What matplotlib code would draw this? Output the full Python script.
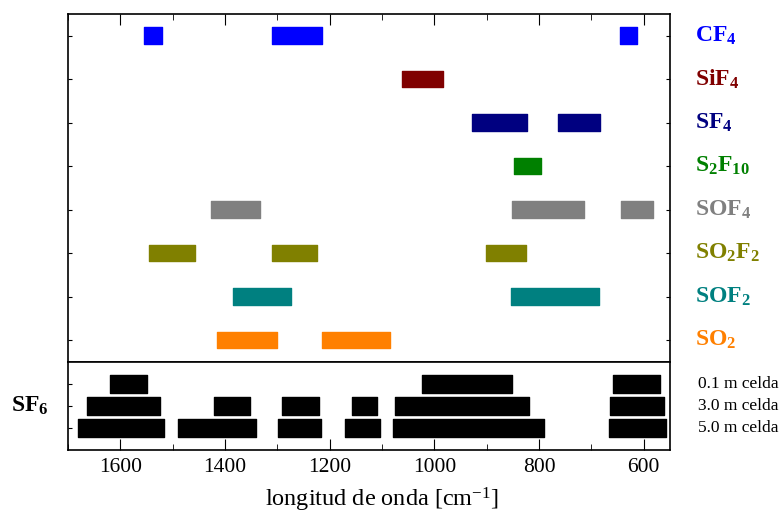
import matplotlib
matplotlib.use('Agg')
from matplotlib import pyplot as plt
from matplotlib.ticker import MultipleLocator

plt.rcParams['font.family'] = 'Liberation Serif'
plt.rcParams['mathtext.fontset'] = 'custom'
plt.rcParams['mathtext.rm'] = 'Liberation Serif'
plt.rcParams['mathtext.it'] = 'Liberation Serif:italic'
plt.rcParams['mathtext.bf'] = 'Liberation Serif:bold'

# gases, top to bottom
gas_labels = [r'$\mathbf{CF_4}$', r'$\mathbf{SiF_4}$', r'$\mathbf{SF_4}$', r'$\mathbf{S_2F_{10}}$',
              r'$\mathbf{SOF_4}$', r'$\mathbf{SO_2F_2}$', r'$\mathbf{SOF_2}$', r'$\mathbf{SO_2}$']
gas_colors = ['#0000ff', '#800000', '#000080', '#008000',
              '#808080', '#808000', '#008080', '#ff8000']
# absorption bands (high, low) in cm-1
gas_bands = [
    [(1555, 1521), (1310, 1215), (646, 612)],
    [(1062, 984)],
    [(928, 823), (763, 684)],
    [(848, 796)],
    [(1426, 1334), (851, 714), (644, 583)],
    [(1545, 1458), (1310, 1224), (901, 825)],
    [(1385, 1274), (854, 686)],
    [(1415, 1300), (1215, 1084)],
]

sf6_labels = ['0.1 m celda', '3.0 m celda', '5.0 m celda']
sf6_bands = [
    [(1620, 1550), (1023, 852), (659, 569)],
    [(1664, 1525), (1422, 1352), (1292, 1220), (1158, 1110), (1075, 819), (664, 562)],
    [(1681, 1516), (1489, 1341), (1299, 1216), (1171, 1103), (1079, 791), (667, 558)],
]

fig = plt.figure(figsize=(7.79, 5.18), dpi=100)
ax1 = fig.add_axes([0.0873, 0.3012, 0.7727, 0.6718])
ax2 = fig.add_axes([0.0873, 0.1313, 0.7727, 0.1699], sharex=ax1)

n = len(gas_labels)
for i, (lab, col, bands) in enumerate(zip(gas_labels, gas_colors, gas_bands)):
    y = n - 1 - i
    ax1.broken_barh([(lo, hi - lo) for hi, lo in bands], (y - 0.19, 0.38),
                    facecolor=col, edgecolor=col, linewidth=1, joinstyle='round')
    ax1.text(1.042, y, lab, transform=ax1.get_yaxis_transform(), color=col,
             fontsize=17, va='center', ha='left')

ax1.set_ylim(-0.5, n - 0.5)
ax1.set_yticks(range(n))
ax1.tick_params(axis='y', left=True, right=True, labelleft=False, direction='in', length=3)
ax1.tick_params(axis='x', top=True, bottom=False, labelbottom=False, direction='in', length=8)
ax1.tick_params(axis='x', which='minor', top=True, bottom=False, direction='in', length=4)

m = len(sf6_labels)
for i, (lab, bands) in enumerate(zip(sf6_labels, sf6_bands)):
    y = m - i
    ax2.broken_barh([(lo, hi - lo) for hi, lo in bands], (y - 0.4, 0.8),
                    facecolor='black', edgecolor='black', linewidth=1, joinstyle='round')
    ax2.text(1.046, y, lab, transform=ax2.get_yaxis_transform(), fontsize=12.5,
             va='center', ha='left')
ax2.text(-0.033, 2, r'$\mathbf{SF_6}$', transform=ax2.get_yaxis_transform(),
         fontsize=17, va='center', ha='right')

ax2.set_ylim(0, m + 1)
ax2.set_yticks(range(1, m + 1))
ax2.tick_params(axis='y', left=True, labelleft=False, direction='in', length=3)
ax2.tick_params(axis='x', direction='in', length=8, labelsize=15.5, pad=6)
ax2.tick_params(axis='x', which='minor', direction='in', length=4)

ax1.set_xlim(1700, 550)
ax2.xaxis.set_major_locator(MultipleLocator(200))
ax2.xaxis.set_minor_locator(MultipleLocator(100))
fig.text(0.49, 0.008, r'longitud de onda [cm$^{-1}$]', fontsize=17.5,
         ha='center', va='bottom')

for ax in (ax1, ax2):
    for s in ax.spines.values():
        s.set_linewidth(1.2)

plt.savefig('out.png', dpi=100)
